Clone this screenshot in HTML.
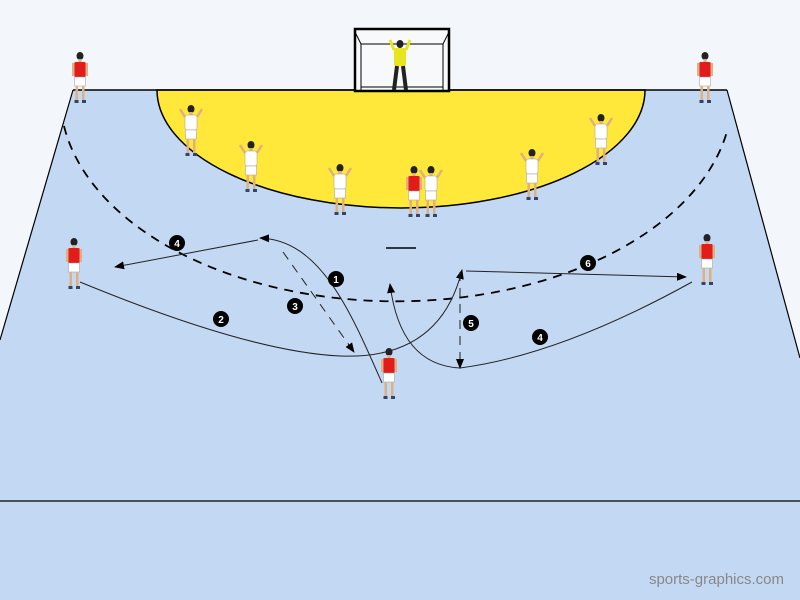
<!DOCTYPE html>
<html><head><style>body{margin:0}svg{display:block}</style></head><body>
<svg width="800" height="600" viewBox="0 0 800 600" xmlns="http://www.w3.org/2000/svg">
<defs>
<marker id="a" markerWidth="10" markerHeight="8" refX="9" refY="4" orient="auto" markerUnits="userSpaceOnUse"><path d="M0,0 L10,4 L0,8 z" fill="#000"/></marker>
<g id="pr"><ellipse cx="0" cy="-46" rx="3.5" ry="4" fill="#222"/><rect x="-1.5" y="-43" width="3" height="3" fill="#e0b080"/><rect x="-6" y="-40" width="12" height="15" rx="2" fill="#e21b1b"/><rect x="-8" y="-39" width="2.5" height="13" fill="#e0b080"/><rect x="5.5" y="-39" width="2.5" height="13" fill="#e0b080"/><rect x="-5.5" y="-25" width="11" height="9" fill="#fff" stroke="#999" stroke-width=".5"/><rect x="-4.5" y="-16" width="2.5" height="14" fill="#e0b080"/><rect x="2" y="-16" width="2.5" height="14" fill="#e0b080"/><rect x="-5.5" y="-2" width="4" height="3" fill="#34456a"/><rect x="2" y="-2" width="4" height="3" fill="#34456a"/></g>
<g id="pw"><ellipse cx="0" cy="-46" rx="3.5" ry="4" fill="#222"/><rect x="-1.5" y="-43" width="3" height="3" fill="#e0b080"/><rect x="-6" y="-40" width="12" height="15" rx="2" fill="#fff" stroke="#999" stroke-width=".5"/><path d="M-6,-38 L-11,-46 M6,-38 L11,-46" stroke="#e0b080" stroke-width="2.5"/><rect x="-5.5" y="-25" width="11" height="9" fill="#fff" stroke="#999" stroke-width=".5"/><rect x="-4.5" y="-16" width="2.5" height="14" fill="#e0b080"/><rect x="2" y="-16" width="2.5" height="14" fill="#e0b080"/><rect x="-5.5" y="-2" width="4" height="3" fill="#34456a"/><rect x="2" y="-2" width="4" height="3" fill="#34456a"/></g>
</defs>
<rect width="800" height="600" fill="#f3f6fb"/>
<polygon points="73,90 727,90 800,358 800,600 0,600 0,340" fill="#c3d8f2"/>
<path d="M73,90 L0,340 M727,90 L800,358" stroke="#000" stroke-width="1.2" fill="none"/>
<line x1="0" y1="501" x2="800" y2="501" stroke="#000" stroke-width="1.2"/>
<path d="M157,90 A244,118 0 0 0 645,90 Z" fill="#ffe83a" stroke="#000" stroke-width="1.5"/>
<line x1="73" y1="90" x2="727" y2="90" stroke="#000" stroke-width="1.5"/>
<path d="M64,126 A336,206 0 0 0 728,128" fill="none" stroke="#000" stroke-width="1.8" stroke-dasharray="9,7"/>
<line x1="386" y1="248" x2="416" y2="248" stroke="#000" stroke-width="1.5"/>
<!-- goal -->
<rect x="355" y="29" width="94" height="62" fill="#f8f9fb" stroke="#000" stroke-width="2.5"/>
<path d="M361,44 L443,44 M361,44 L361,90 M443,44 L443,90 M355,32 L361,44 M449,32 L443,44 M361,87 L443,87" stroke="#000" stroke-width="1" fill="none"/>
<!-- goalkeeper -->
<g transform="translate(400,90)"><ellipse cx="0" cy="-46" rx="3.5" ry="4" fill="#222"/><rect x="-6" y="-42" width="12" height="18" rx="2" fill="#e8e41e"/><path d="M-6,-40 L-10,-50 M6,-40 L10,-50" stroke="#e8e41e" stroke-width="3"/><path d="M-3,-24 L-6,0 M3,-24 L6,0" stroke="#222" stroke-width="4"/></g>
<!-- paths -->
<g fill="none" stroke="#222" stroke-width="1">
<path d="M258,240 L115,267" marker-end="url(#a)"/>
<path d="M382,383 C350,310 320,240 260,238" marker-end="url(#a)"/>
<path d="M283,252 L354,352" stroke-dasharray="9,7" marker-end="url(#a)"/>
<path d="M80,282 Q250,352 340,356 Q440,360 462,270" marker-end="url(#a)"/>
<path d="M692,282 Q560,355 460,368 Q400,365 390,284" marker-end="url(#a)"/>
<path d="M460,272 L460,368" stroke-dasharray="9,7" marker-end="url(#a)"/>
<path d="M466,271 L686,277" marker-end="url(#a)"/>
</g>
<g font-family="Liberation Sans, sans-serif" font-size="10" font-weight="bold" fill="#fff" text-anchor="middle">
<circle cx="177" cy="243" r="8" fill="#000"/><text x="177" y="247">4</text>
<circle cx="336" cy="279" r="8" fill="#000"/><text x="336" y="283">1</text>
<circle cx="295" cy="306" r="8" fill="#000"/><text x="295" y="310">3</text>
<circle cx="221" cy="319" r="8" fill="#000"/><text x="221" y="323">2</text>
<circle cx="471" cy="323" r="8" fill="#000"/><text x="471" y="327">5</text>
<circle cx="540" cy="337" r="8" fill="#000"/><text x="540" y="341">4</text>
<circle cx="588" cy="263" r="8" fill="#000"/><text x="588" y="267">6</text>
</g>
<use href="#pr" x="80" y="102"/>
<use href="#pr" x="705" y="102"/>
<use href="#pr" x="74" y="288"/>
<use href="#pr" x="707" y="284"/>
<use href="#pr" x="389" y="398"/>
<use href="#pr" x="414" y="216"/>
<use href="#pw" x="191" y="155"/>
<use href="#pw" x="251" y="191"/>
<use href="#pw" x="340" y="214"/>
<use href="#pw" x="431" y="216"/>
<use href="#pw" x="532" y="199"/>
<use href="#pw" x="601" y="164"/>
<text x="784" y="584" font-family="Liberation Sans, sans-serif" font-size="15" fill="#888" text-anchor="end">sports-graphics.com</text>
</svg>
</body></html>
